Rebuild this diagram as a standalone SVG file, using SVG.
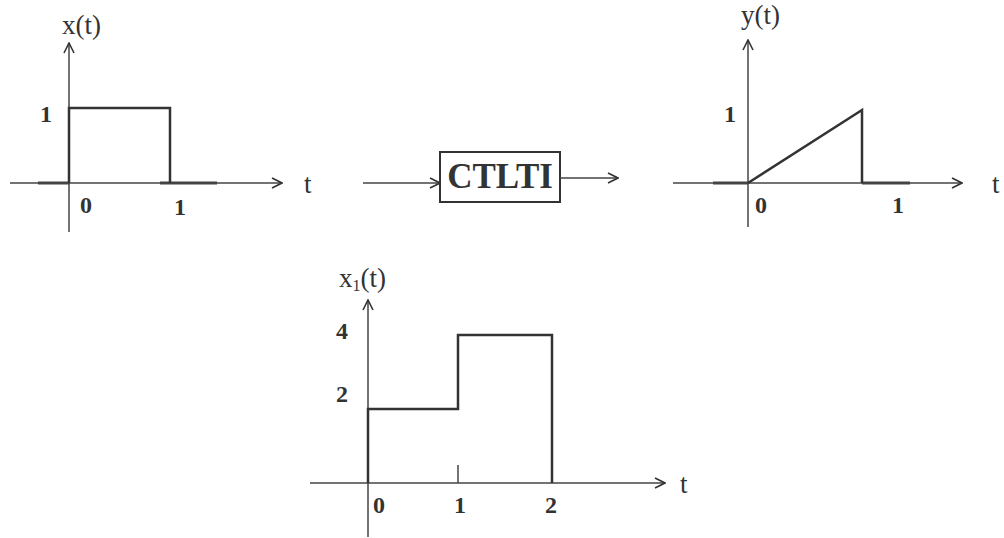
<svg xmlns="http://www.w3.org/2000/svg" width="1004" height="538" viewBox="0 0 1004 538">
<defs>
<marker id="arr" viewBox="0 0 12 12" refX="11" refY="6" markerWidth="12" markerHeight="12" markerUnits="userSpaceOnUse" orient="auto">
<path d="M1,1 L11,6 L1,11" fill="none" stroke="#333" stroke-width="1.6"/>
</marker>
</defs>
<style>
.ax{stroke:#444;stroke-width:1.5;fill:none}
.sig{stroke:#333;stroke-width:2.5;fill:none}
.thick{stroke:#444;stroke-width:3;fill:none}
.lbl{font-family:"Liberation Serif",serif;font-size:27px;fill:#333}
.num{font-family:"Liberation Serif",serif;font-size:24px;font-weight:bold;fill:#333}
</style>
<rect width="1004" height="538" fill="#fff"/>

<g id="plot-x">
<line class="ax" x1="69" y1="232" x2="69" y2="43" marker-end="url(#arr)"/>
<line class="ax" x1="10" y1="183" x2="282" y2="183" marker-end="url(#arr)"/>
<line class="thick" x1="38" y1="183" x2="69" y2="183"/>
<line class="thick" x1="160" y1="183" x2="217" y2="183"/>
<polyline class="sig" points="69,183 69,108 170,108 170,183"/>
<text class="lbl" x="62" y="34">x(t)</text>
<text class="num" x="40" y="122">1</text>
<text class="num" x="80" y="213">0</text>
<text class="num" x="174" y="215">1</text>
<text class="lbl" x="304" y="193">t</text>
</g>

<g id="block">
<rect x="440" y="152" width="120" height="50" fill="#fff" stroke="#333" stroke-width="2"/>
<text x="500" y="188" text-anchor="middle" font-family="Liberation Serif, serif" font-size="35" font-weight="bold" fill="#333">CTLTI</text>
</g>

<g id="connectors">
<line class="ax" x1="363" y1="183" x2="440" y2="183" marker-end="url(#arr)"/>
<line class="ax" x1="560" y1="178" x2="618" y2="178" marker-end="url(#arr)"/>
</g>

<g id="plot-y">
<line class="ax" x1="748" y1="227" x2="748" y2="40" marker-end="url(#arr)"/>
<line class="ax" x1="673" y1="183" x2="962" y2="183" marker-end="url(#arr)"/>
<line class="thick" x1="713" y1="183" x2="748" y2="183"/>
<line class="thick" x1="862" y1="183" x2="910" y2="183"/>
<polyline class="sig" points="748,183 862,110 862,183"/>
<text class="lbl" x="741" y="24">y(t)</text>
<text class="num" x="724" y="122">1</text>
<text class="num" x="755" y="213">0</text>
<text class="num" x="892" y="213">1</text>
<text class="lbl" x="992" y="193">t</text>
</g>

<g id="plot-x1">
<line class="ax" x1="368" y1="537" x2="368" y2="300" marker-end="url(#arr)"/>
<line class="ax" x1="310" y1="483" x2="665" y2="483" marker-end="url(#arr)"/>
<line class="ax" x1="458" y1="465" x2="458" y2="483"/>
<polyline class="sig" points="368,483 368,409 458,409 458,335 552,335 552,483"/>
<text class="lbl" x="339" y="287">x<tspan font-size="16" dy="4">1</tspan><tspan dy="-4">(t)</tspan></text>
<text class="num" x="336" y="339">4</text>
<text class="num" x="336" y="402">2</text>
<text class="num" x="373" y="513">0</text>
<text class="num" x="454" y="513">1</text>
<text class="num" x="545" y="513">2</text>
<text class="lbl" x="680" y="493">t</text>
</g>
</svg>
